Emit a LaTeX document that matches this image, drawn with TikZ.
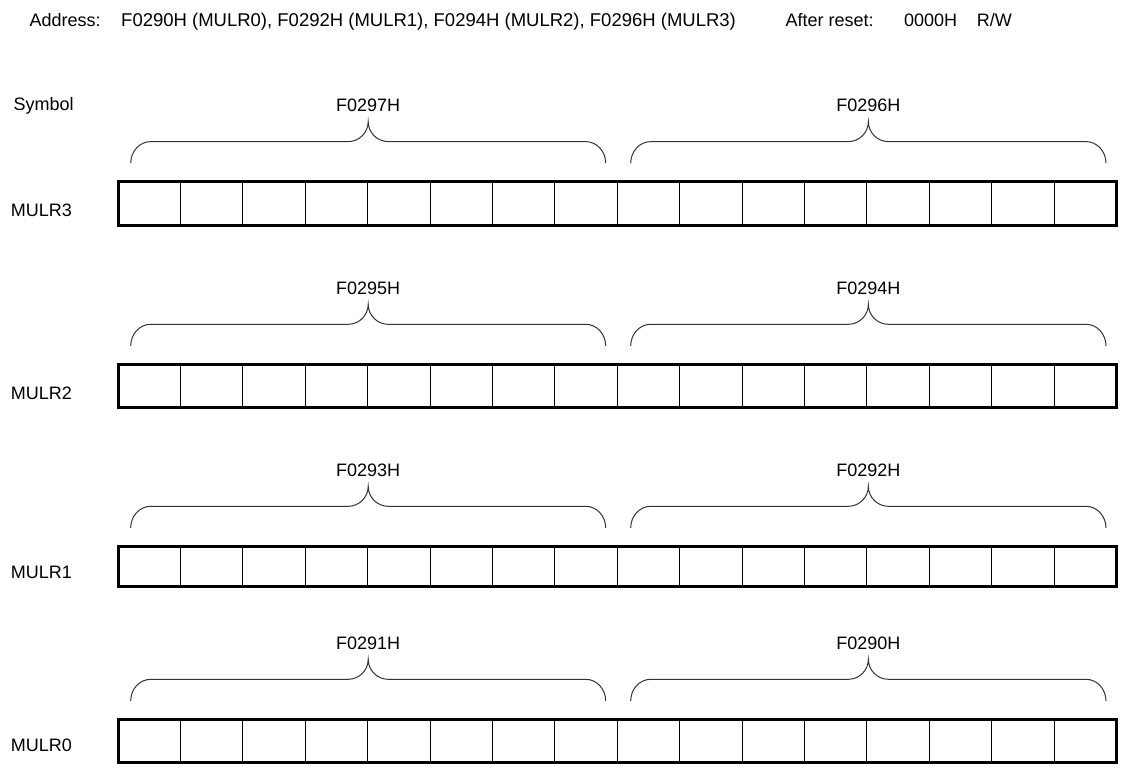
\documentclass[tikz,border=0pt]{standalone}
\usepackage{fontspec}
\setmainfont{Liberation Sans}
\tikzset{
  txt/.style={inner sep=0pt, font=\fontsize{18}{21}\selectfont},
  regframe/.style={draw=black, line width=3pt},
  cellline/.style={draw=black, line width=1pt},
  bracepath/.style={draw=black!80, line width=1pt},
}
% #1 left x, #2 right x, #3 y of the brace's horizontal line
\newcommand\regbrace[3]{%
  \pgfmathsetmacro\bxm{(#1+#2)/2}%
  \draw[bracepath] ({#1},{#3+21.6}) .. controls ({#1},{#3+9.7}) and ({#1+9},{#3}) .. ({#1+20},{#3})
    -- ({\bxm-20},{#3}) .. controls ({\bxm-9},{#3}) and ({\bxm},{#3-9}) .. ({\bxm},{#3-20})
    .. controls ({\bxm},{#3-9}) and ({\bxm+9},{#3}) .. ({\bxm+20},{#3})
    -- ({#2-20},{#3}) .. controls ({#2-9},{#3}) and ({#2},{#3+9.7}) .. ({#2},{#3+21.6});
}
\begin{document}
\begin{tikzpicture}[x=1pt,y=-1pt]
\useasboundingbox (0,0) rectangle (1121,770);
\fill[white] (0,0) rectangle (1121,770);

% header
\node[txt, anchor=base west] (addr) at (29.3,26.7) {Address:};
\node[txt, anchor=base west, font=\fontsize{18.5}{21}\selectfont] (addrval) at (121,26.7) {F0290H (MULR0), F0292H (MULR1), F0294H (MULR2), F0296H (MULR3)};
\node[txt, anchor=base west] (rst) at (785.3,26.7) {After reset:};
\node[txt, anchor=base west] (rstval) at (904,26.7) {0000H};
\node[txt, anchor=base west] (rw) at (976.7,26.7) {R/W};

\node[txt, anchor=base west] (sym) at (13.3,110.5) {Symbol};

% registers
\foreach \n/\t/\b/\lb/\hi/\lo in {3/181.5/225.2/216/F0297H/F0296H,
                                 2/364.2/407.2/399.3/F0295H/F0294H,
                                 1/546.2/586/578.5/F0293H/F0292H,
                                 0/719.2/762.8/751/F0291H/F0290H}{
  \node[txt, anchor=base west] (name\n) at (10.7,\lb) {MULR\n};
  \foreach \k in {1,...,15}{
    \draw[cellline] ({118+\k*62.406},\t) -- ({118+\k*62.406},\b);
  }
  \draw[regframe] (118,\t) rectangle (1116.5,\b);
  \pgfmathsetmacro\L{\t-1.5-38.4}
  \regbrace{130.7}{605.7}{\L}
  \regbrace{630.7}{1106}{\L}
  \node[txt, anchor=base] (hi\n) at ({(130.7+605.7)/2},{\L-30.2}) {\hi};
  \node[txt, anchor=base] (lo\n) at ({(630.7+1106)/2},{\L-30.2}) {\lo};
}
\end{tikzpicture}
\end{document}
